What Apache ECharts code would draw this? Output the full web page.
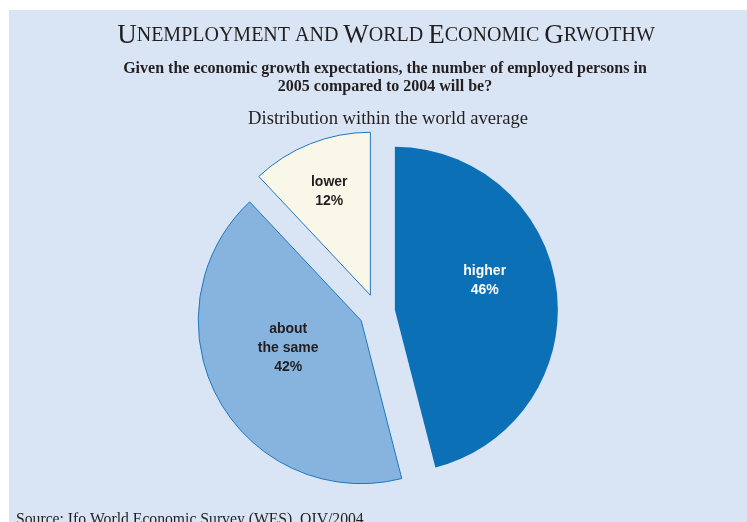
<!DOCTYPE html>
<html>
<head>
<meta charset="utf-8">
<script src="https://cdn.jsdelivr.net/npm/echarts@6/dist/echarts.min.js"></script>
<style>
  html, body { margin: 0; padding: 0; background: #fff; }
  #main { width: 747px; height: 522px; }
</style>
</head>
<body>
<div id="main"></div>
<script>
var categories = ['higher', 'about the same', 'lower'];
var shares = [46, 42, 12];
var sliceColors = ['#0b70b6', '#86b4de', '#f8f7e8'];
// label nudges (dx, dy) so the text sits like the original
var labelShift = [[6, -19], [1, -13], [-10, -25]];

var chart = echarts.init(document.getElementById('main'));

var pieData = [];
for (var i = 0; i < categories.length; i++) {
    pieData.push({
        name: categories[i],
        value: shares[i],
        selected: true,
        itemStyle: {
            color: sliceColors[i],
            borderColor: i == 0 ? sliceColors[0] : '#1f78c1',
            borderWidth: i == 0 ? 0 : 1
        },
        label: { color: i == 0 ? '#ffffff' : '#231f20' }
    });
}

var serif = '"Liberation Serif", "Times New Roman", serif';

var option = {
    backgroundColor: '#ffffff',
    animation: false,
    graphic: [
        { type: 'rect', left: 9, top: 10, shape: { width: 738, height: 512 }, style: { fill: '#d9e5f4' }, z: -10 }
    ],
    title: [
        {
            text: '{b|U}{s|NEMPLOYMENT AND }{b|W}{s|ORLD }{b|E}{s|CONOMIC }{b|G}{s|RWOTHW}',
            left: 381, top: 17, textAlign: 'center',
            textStyle: {
                rich: {
                    b: { fontFamily: serif, fontSize: 27, fontWeight: 'normal', color: '#231f20' },
                    s: { fontFamily: serif, fontSize: 20, fontWeight: 'normal', color: '#231f20' }
                }
            }
        },
        {
            text: 'Given the economic growth expectations, the number of employed persons in\n2005 compared to 2004 will be?',
            left: 380, top: 55, textAlign: 'center',
            textStyle: { fontFamily: serif, fontSize: 16, fontWeight: 'bold', color: '#231f20', lineHeight: 18, align: 'center' }
        },
        {
            text: 'Distribution within the world average',
            left: 383, top: 105, textAlign: 'center',
            textStyle: { fontFamily: serif, fontSize: 18.6, fontWeight: 'normal', color: '#231f20' }
        },
        {
            text: 'Source: Ifo World Economic Survey (WES), OIV/2004.',
            left: 11, top: 507,
            textStyle: { fontFamily: serif, fontSize: 15.7, fontWeight: 'normal', color: '#231f20' }
        }
    ],
    series: [
        {
            type: 'pie',
            center: [377, 312],
            radius: 163,
            startAngle: 90,
            clockwise: true,
            selectedMode: 'multiple',
            selectedOffset: 18,
            avoidLabelOverlap: false,
            emphasis: { disabled: true },
            label: {
                show: true,
                position: 'inner',
                fontFamily: '"Liberation Sans", Arial, sans-serif',
                fontWeight: 'bold',
                fontSize: 14,
                lineHeight: 19,
                align: 'center',
                formatter: function (p) {
                    return p.name.replace('about ', 'about\n') + '\n' + p.value + '%';
                }
            },
            labelLine: { show: false },
            labelLayout: function (p) {
                return { dx: labelShift[p.dataIndex][0], dy: labelShift[p.dataIndex][1] };
            },
            data: pieData
        }
    ]
};

chart.setOption(option);
</script>
</body>
</html>
